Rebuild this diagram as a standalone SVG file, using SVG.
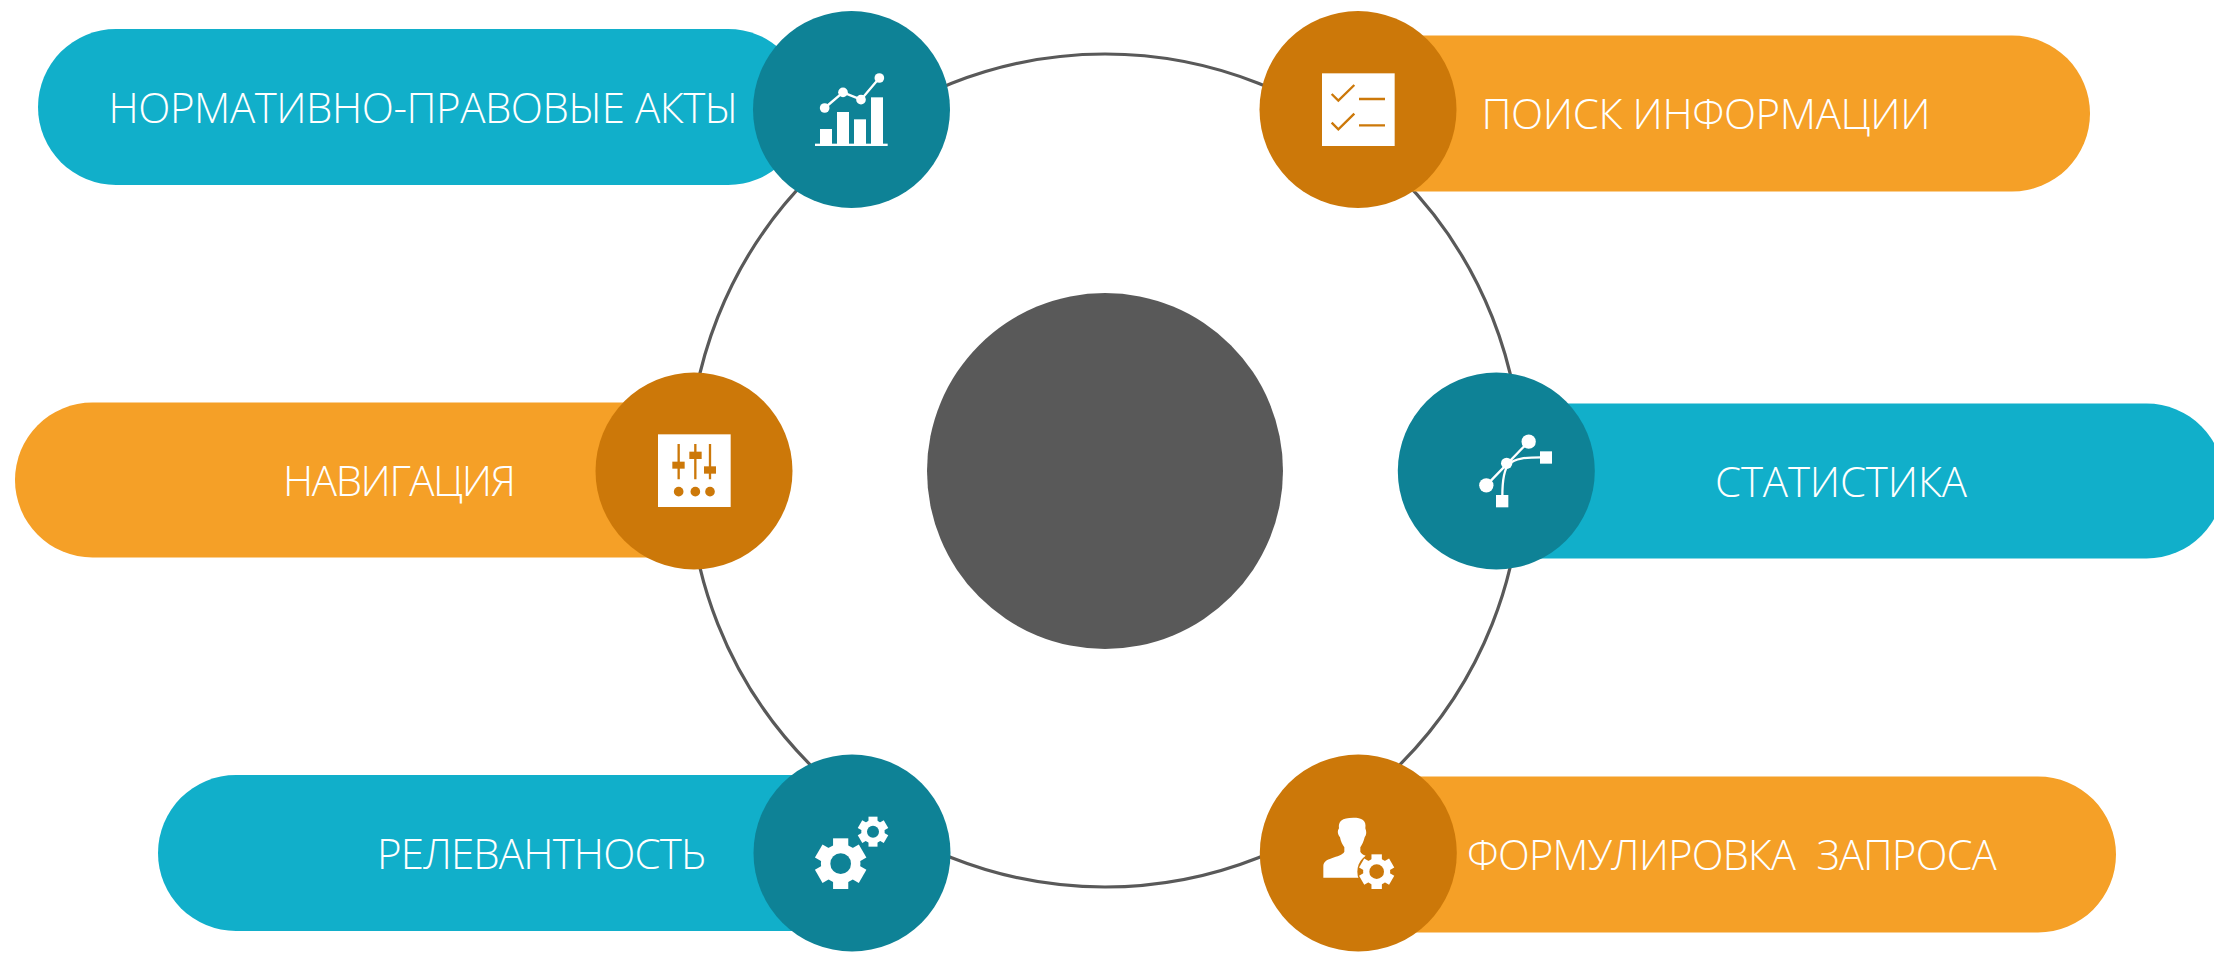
<svg xmlns="http://www.w3.org/2000/svg" width="2214" height="953" viewBox="0 0 2214 953">
<style>
text{font-family:"Open Sans","Noto Sans","Liberation Sans",sans-serif;font-weight:300;font-size:42px;fill:#fff}
.ring{fill:none;stroke:#595959;stroke-width:3.2}
.teal{fill:#11afca}.orange{fill:#f5a027}.dteal{fill:#0e8296}.dorange{fill:#cc7809}
.w{fill:#fff}.ls{fill:none;stroke:#fff;stroke-width:7}.lo{fill:none;stroke:#cc7809;stroke-width:7}
.fo{fill:#cc7809}
</style>
<defs>
<g id="gear" class="w">
<circle r="0.78"/>
<rect x="-0.3" y="-1" width="0.6" height="2"/>
<rect x="-0.3" y="-1" width="0.6" height="2" transform="rotate(60)"/>
<rect x="-0.3" y="-1" width="0.6" height="2" transform="rotate(120)"/>
</g>
</defs>
<rect width="2214" height="953" fill="#fff"/>
<g id="connectors"><circle class="ring" cx="1105" cy="470.5" r="416.5"/></g>
<g id="center"><circle cx="1105" cy="471" r="178" fill="#595959"/></g>
<g id="node-acts">
<rect class="teal" x="38" y="29" width="768" height="156" rx="78"/>
<text x="108.5" y="122.5" textLength="630">НОРМАТИВНО-ПРАВОВЫЕ АКТЫ</text>
<circle class="dteal" cx="851.5" cy="109.5" r="98.5"/>
<g transform="translate(720 0) scale(.33333)">
<rect class="w" x="285" y="431" width="218" height="7"/>
<rect class="w" x="300" y="387" width="36" height="46"/>
<rect class="w" x="351" y="336" width="36" height="97"/>
<rect class="w" x="402" y="358" width="36" height="75"/>
<rect class="w" x="453" y="292" width="36" height="141"/>
<polyline class="ls" points="314,324 369,277 423,299 478,234"/>
<circle class="w" cx="314" cy="324" r="14.5"/><circle class="w" cx="369" cy="277" r="14.5"/><circle class="w" cx="423" cy="299" r="14.5"/><circle class="w" cx="478" cy="234" r="14.5"/>
</g>
</g>
<g id="node-search">
<path class="orange" d="M1380 35.5H2012a78 78 0 0 1 0 156H1380Z"/>
<text x="1481.5" y="129" textLength="449">ПОИСК ИНФОРМАЦИИ</text>
<circle class="dorange" cx="1358" cy="109.5" r="98.5"/>
<g transform="translate(1250 0) scale(.33333)">
<rect class="w" x="216" y="220" width="218" height="218"/>
<polyline class="lo" points="245,282 265,302 313,255"/>
<polyline class="lo" points="245,368 265,388 313,341"/>
<path class="lo" d="M327 297H405M327 376H405"/>
</g>
</g>
<g id="node-nav">
<path class="orange" d="M700 402.5H92.5a77.5 77.5 0 0 0 0 155H700Z"/>
<text x="283" y="495.5" textLength="233">НАВИГАЦИЯ</text>
<circle class="dorange" cx="694" cy="471" r="98.5"/>
<g transform="translate(580 360) scale(.33333)">
<rect class="w" x="234" y="223" width="218" height="218"/>
<path class="lo" d="M296 252V358M346 252V358M390 252V358"/>
<rect class="fo" x="277" y="305" width="37" height="21"/><rect class="fo" x="328" y="275" width="37" height="22"/><rect class="fo" x="372" y="319" width="36" height="22"/>
<circle class="fo" cx="296" cy="395" r="14.5"/><circle class="fo" cx="346" cy="395" r="14.5"/><circle class="fo" cx="390" cy="395" r="14.5"/>
</g>
</g>
<g id="node-stats">
<path class="teal" d="M1500 403.5H2146.5a77.5 77.5 0 0 1 0 155H1500Z"/>
<text x="1715" y="496.5" textLength="252">СТАТИСТИКА</text>
<circle class="dteal" cx="1496.3" cy="471" r="98.5"/>
<g transform="translate(1390 360) scale(.33333)">
<path class="ls" d="M289 376L416 245M455 292C405 292 375 295 357 312C342 327 337 360 337 410"/>
<circle class="w" cx="289" cy="376" r="21.5"/><circle class="w" cx="416" cy="245" r="21.5"/><circle class="w" cx="350" cy="310" r="17"/>
<rect class="w" x="450" y="274" width="36" height="37"/><rect class="w" x="318" y="405" width="37" height="37"/>
</g>
</g>
<g id="node-relevance">
<path class="teal" d="M820 775H236a78 78 0 0 0 0 156H820Z"/>
<text x="377" y="868.5" textLength="329">РЕЛЕВАНТНОСТЬ</text>
<circle class="dteal" cx="852" cy="853" r="98.5"/>
<g transform="translate(750 750) scale(.33333)">
<use href="#gear" transform="translate(272 341) scale(76)"/><circle class="dteal" cx="272" cy="341" r="31"/>
<use href="#gear" transform="translate(369 245) scale(45)"/><circle class="dteal" cx="369" cy="245" r="18"/>
</g>
</g>
<g id="node-query">
<path class="orange" d="M1380 776.5H2038a78 78 0 0 1 0 156H1380Z"/>
<text x="1467" y="870" style="font-size:41.5px;letter-spacing:-.7px;word-spacing:11px">ФОРМУЛИРОВКА ЗАПРОСА</text>
<circle class="dorange" cx="1358.3" cy="853" r="98.5"/>
<g transform="translate(1260 750) scale(.33333)">
<path class="w" d="M190 383V350C190 335 200 330 215 325C232 318 248 315 253 305V292C248 285 242 275 240 262C232 252 232 242 237 235C234 215 245 203 280 203C305 203 320 210 316 235C320 245 320 254 314 262C311 275 306 285 301 292V305C304 312 312 316 330 322L330 383Z"/>
<circle class="fo" cx="350" cy="365" r="58"/>
<use href="#gear" transform="translate(350 365) scale(52)"/><circle class="fo" cx="350" cy="365" r="22"/>
</g>
</g>
</svg>
